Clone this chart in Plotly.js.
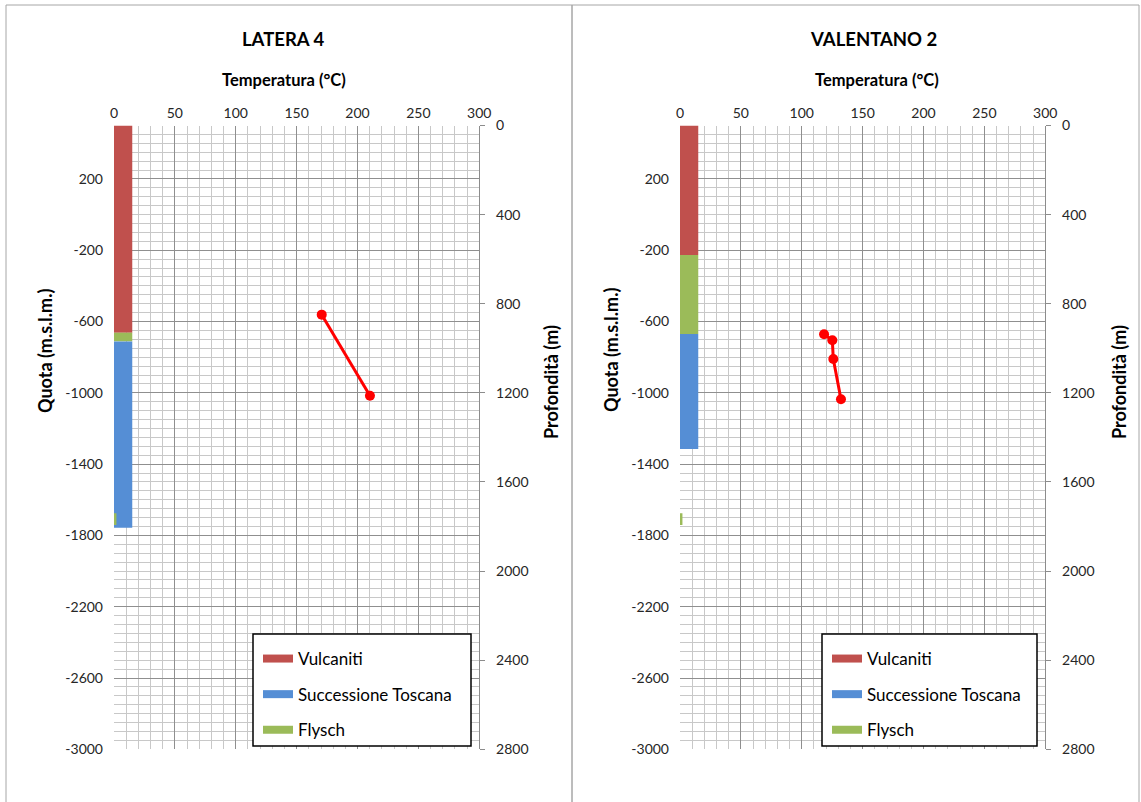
<!DOCTYPE html>
<html>
<head>
<meta charset="utf-8">
<script src="https://cdn.plot.ly/plotly-3.0.1.min.js"></script>
<style>html,body{margin:0;padding:0;background:#fff;}#chart{width:1141px;height:802px;}</style>
</head>
<body>
<div id="chart"></div>
<script>
// ---------------- DATA ----------------
const wellTitles = ['LATERA 4', 'VALENTANO 2'];
const layerNames = ['Vulcaniti', 'Successione Toscana', 'Flysch'];

// Stratigraphic column, depth (m) from top to bottom
const latera4LayerName   = ['Vulcaniti', 'Flysch', 'Successione Toscana'];
const latera4LayerTop    = [0, 930, 969];
const latera4LayerBottom = [930, 969, 1805];
const valentano2LayerName   = ['Vulcaniti', 'Flysch', 'Successione Toscana'];
const valentano2LayerTop    = [0, 581, 936];
const valentano2LayerBottom = [581, 936, 1452];

// thin Flysch sliver near 0 °C
const sliverTop    = [1740];
const sliverBottom = [1793];

// Temperature measurements
const latera4Temp   = [170.6, 210.2];
const latera4Depth  = [849, 1213];
const valentano2Temp  = [118.3, 125.1, 125.9, 132.2];
const valentano2Depth = [937, 964, 1048, 1229];

// Axis ranges and tick labels
const tempRange  = [0, 300];
const quotaRange = [-3000, 500];
const depthRange = [2800, 0];
const quotaTickVals = [-3000, -2600, -2200, -1800, -1400, -1000, -600, -200, 200];
const quotaTickText = ['-3000', '-2600', '-2200', '-1800', '-1400', '-1000', '-600', '-200', '200'];

// ---------------- STYLE ----------------
const W = 1141, H = 802;
const px = v => v / W;
const py = v => 1 - v / H;
const layerColors = {'Vulcaniti': '#C0504D', 'Successione Toscana': '#558ED5', 'Flysch': '#9BBB59'};
const FONT = 'Lato, "Open Sans", sans-serif';
const majorGrid = '#8f8f8f', minorGrid = '#c8c8c8', tickCol = '#262626';
const columnX = 7.5, columnW = 15, sliverX = 1, sliverW = 2;

const traces = [];
function addWell(names, tops, bottoms, temps, depths, xa, ya) {
  for (let i = 0; i < names.length; i++) {
    traces.push({type: 'bar', x: [columnX], base: [tops[i]], y: [bottoms[i] - tops[i]], width: [columnW],
      marker: {color: layerColors[names[i]], line: {width: 0}}, xaxis: xa, yaxis: ya,
      showlegend: false, hoverinfo: 'skip'});
  }
  for (let i = 0; i < sliverTop.length; i++) {
    traces.push({type: 'bar', x: [sliverX], base: [sliverTop[i]], y: [sliverBottom[i] - sliverTop[i]], width: [sliverW],
      marker: {color: layerColors['Flysch'], line: {width: 0}}, xaxis: xa, yaxis: ya,
      showlegend: false, hoverinfo: 'skip'});
  }
  traces.push({type: 'scatter', mode: 'lines+markers', x: temps, y: depths, xaxis: xa, yaxis: ya,
    line: {color: '#FF0000', width: 3}, marker: {color: '#FF0000', size: 10}, showlegend: false, cliponaxis: false});
}
addWell(latera4LayerName, latera4LayerTop, latera4LayerBottom, latera4Temp, latera4Depth, 'x', 'y2');
addWell(valentano2LayerName, valentano2LayerTop, valentano2LayerBottom, valentano2Temp, valentano2Depth, 'x2', 'y4');

// legend entries
[['legend', 'x', 'y2'], ['legend2', 'x2', 'y4']].forEach(([lg, xa, ya]) => {
  layerNames.forEach(n => {
    traces.push({type: 'scatter', mode: 'lines', x: [null], y: [null], name: n, legend: lg, legendgroup: lg + n,
      line: {color: layerColors[n], width: 8}, xaxis: xa, yaxis: ya, hoverinfo: 'skip'});
  });
});
// keep quota axes alive
traces.push({type: 'scatter', mode: 'markers', x: [null], y: [null], xaxis: 'x', yaxis: 'y', showlegend: false});
traces.push({type: 'scatter', mode: 'markers', x: [null], y: [null], xaxis: 'x2', yaxis: 'y3', showlegend: false});

const yDom = [py(749.3), py(125.5)];
const tickFont = {family: FONT, size: 14, color: tickCol};
function xAxis(dom, anchor) {
  return {domain: dom, anchor: anchor, side: 'top', range: tempRange, dtick: 50, tick0: 0,
    showgrid: true, gridcolor: majorGrid, gridwidth: 1,
    minor: {dtick: 10, showgrid: true, gridcolor: minorGrid, gridwidth: 1},
    ticks: '', ticklabelstandoff: 4, tickfont: tickFont,
    showline: false, zeroline: false, fixedrange: true};
}
function quotaAxis(anchor) {
  return {domain: yDom, anchor: anchor, range: quotaRange, tickmode: 'array',
    tickvals: quotaTickVals, ticktext: quotaTickText,
    showgrid: true, gridcolor: majorGrid, gridwidth: 1,
    minor: {tick0: -3000, dtick: 50, showgrid: true, gridcolor: minorGrid, gridwidth: 1},
    ticks: '', ticklabelstandoff: 10, tickfont: tickFont,
    showline: false, zeroline: false, fixedrange: true};
}
function depthAxis(over, anchor) {
  return {overlaying: over, anchor: anchor, side: 'right', range: depthRange, tick0: 0, dtick: 400,
    showgrid: false, zeroline: false, ticks: 'outside', ticklen: 5, tickcolor: '#8c8c8c', tickwidth: 1,
    showline: true, linecolor: '#8c8c8c', linewidth: 1, ticklabelstandoff: 8,
    tickfont: tickFont, fixedrange: true};
}

function ann(text, x, y, size, angle) {
  return {text: text, x: x, y: y, xref: 'paper', yref: 'paper', showarrow: false, textangle: angle || 0,
    xanchor: 'center', yanchor: 'middle', font: {family: FONT, size: size, color: '#000', weight: 'bold'}};
}

const legendBase = {xanchor: 'left', y: py(641), yanchor: 'top', bgcolor: 'rgba(0,0,0,0)', borderwidth: 0,
  font: {family: FONT, size: 17, color: '#000'}, tracegroupgap: 10.5, traceorder: 'grouped'};

const layout = {
  width: W, height: H, margin: {l: 0, r: 0, t: 0, b: 0}, paper_bgcolor: '#fff', plot_bgcolor: '#fff',
  barmode: 'overlay', showlegend: true,
  xaxis: xAxis([px(114), px(479.3)], 'y'),
  yaxis: quotaAxis('x'),
  yaxis2: depthAxis('y', 'x'),
  xaxis2: xAxis([px(680), px(1045.3)], 'y3'),
  yaxis3: quotaAxis('x2'),
  yaxis4: depthAxis('y3', 'x2'),
  legend: Object.assign({x: px(258)}, legendBase),
  legend2: Object.assign({x: px(827)}, legendBase),
  annotations: [
    ann(wellTitles[0], px(283), py(39), 18.5),
    ann(wellTitles[1], px(873), py(39), 18.5),
    ann('Temperatura (°C)', px(284), py(80), 16.5),
    ann('Temperatura (°C)', px(877), py(80), 16.5),
    ann('Quota (m.s.l.m.)', px(45), py(351), 18, -90),
    ann('Quota (m.s.l.m.)', px(611), py(350), 18, -90),
    ann('Profondità (m)', px(551), py(382), 18, -90),
    ann('Profondità (m)', px(1119), py(382), 18, -90)
  ],
  shapes: [
    {type: 'rect', xref: 'paper', yref: 'paper', x0: px(6), x1: px(572), y0: -0.05, y1: py(5),
      line: {color: '#a6a6a6', width: 1}, layer: 'below'},
    {type: 'rect', xref: 'paper', yref: 'paper', x0: px(572), x1: px(1139), y0: -0.05, y1: py(5),
      line: {color: '#a6a6a6', width: 1}, layer: 'below'},
    {type: 'rect', xref: 'paper', yref: 'paper', x0: px(253), x1: px(471), y0: py(746), y1: py(634),
      line: {color: '#000', width: 1.5}, fillcolor: '#fff', layer: 'above'},
    {type: 'rect', xref: 'paper', yref: 'paper', x0: px(822), x1: px(1037), y0: py(746), y1: py(634),
      line: {color: '#000', width: 1.5}, fillcolor: '#fff', layer: 'above'}
  ]
};

Plotly.newPlot('chart', traces, layout, {displayModeBar: false, staticPlot: true});
</script>
</body>
</html>
